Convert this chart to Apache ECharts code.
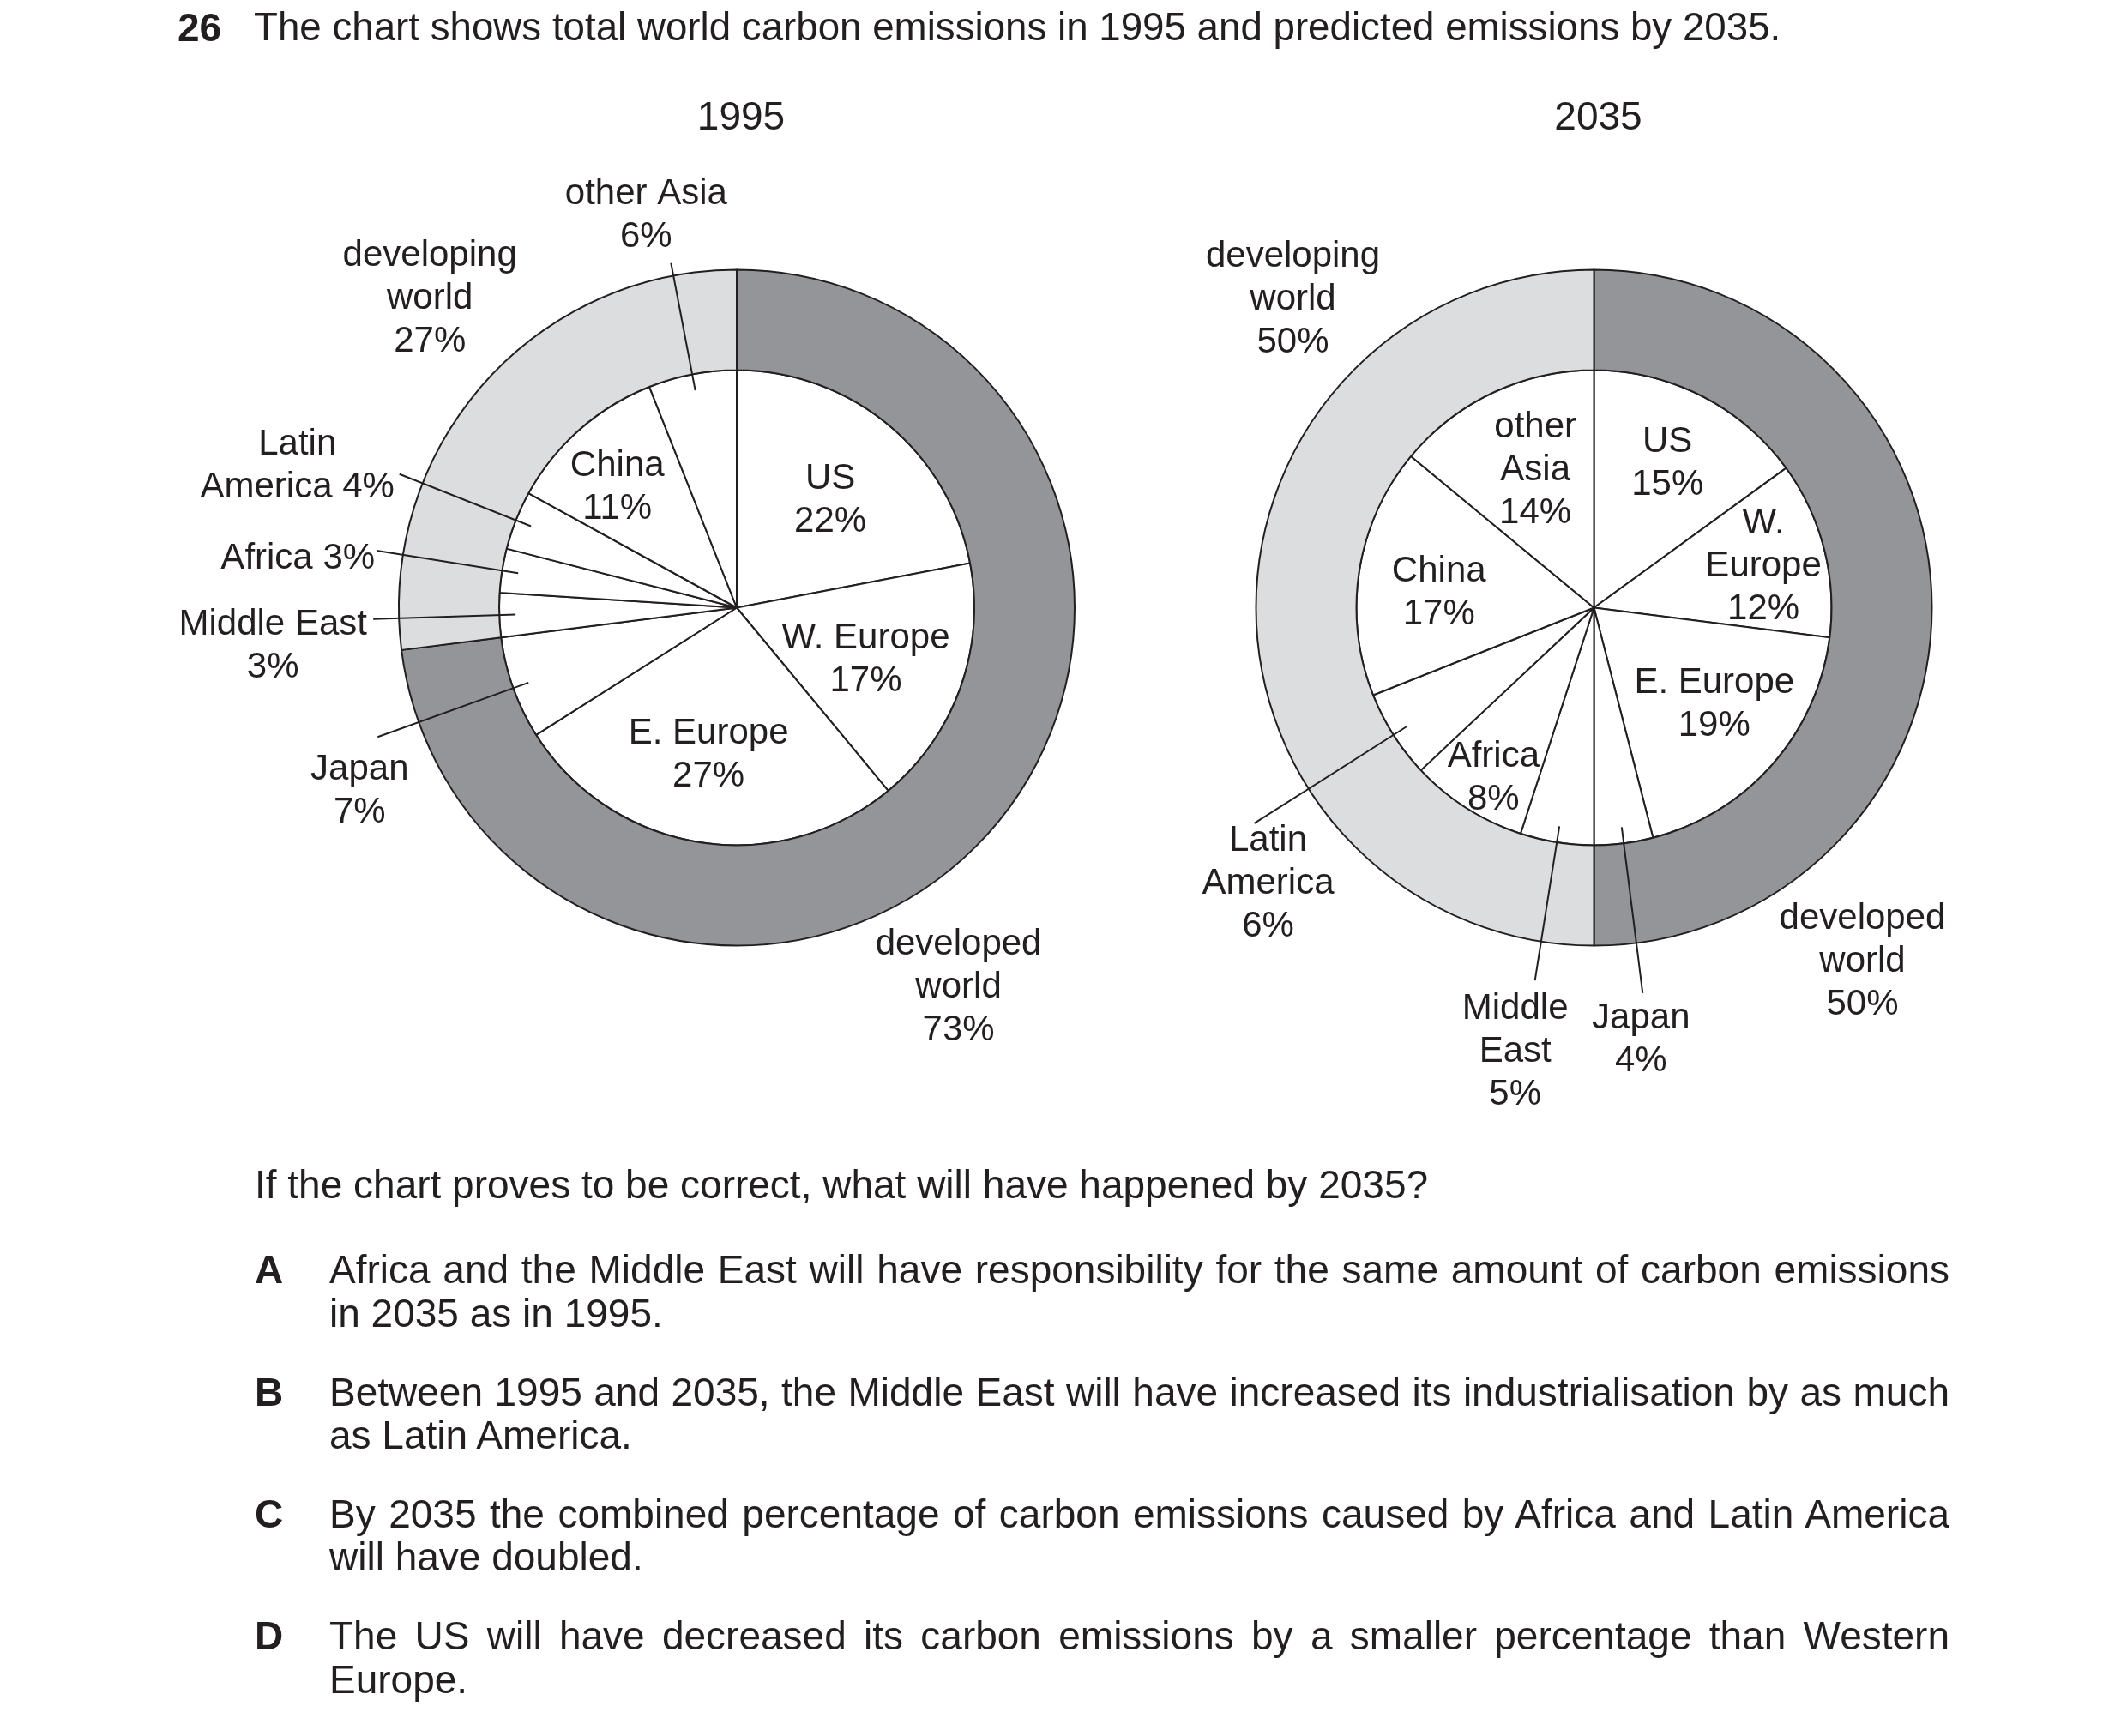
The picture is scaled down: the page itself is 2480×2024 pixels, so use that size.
<!DOCTYPE html>
<html>
<head>
<meta charset="utf-8">
<script src="https://cdn.jsdelivr.net/npm/echarts@6/dist/echarts.min.js"></script>
<style>
html,body{margin:0;padding:0;background:#ffffff;width:2480px;height:2024px;overflow:hidden;}
#chart{position:absolute;left:0;top:0;width:2480px;height:2024px;}
.t{position:absolute;font-family:"Liberation Sans",Arial,sans-serif;font-size:46px;line-height:50.5px;color:#231f20;white-space:nowrap;z-index:2;}
.b{font-weight:bold;}
.j{text-align:justify;text-align-last:justify;}
</style>
</head>
<body>
<div id="chart"></div>
<div class="t b" style="left:207px;top:7px">26</div>
<div class="t" style="left:296px;top:7px;font-size:45.7px">The chart shows total world carbon emissions in 1995 and predicted emissions by 2035.</div>
<div class="t" style="left:297px;top:1356px">If the chart proves to be correct, what will have happened by 2035?</div>
<div class="t b" style="left:297px;top:1455px">A</div>
<div class="t j" style="left:384px;top:1455px;width:1889px">Africa and the Middle East will have responsibility for the same amount of carbon emissions</div>
<div class="t" style="left:384px;top:1506px">in 2035 as in 1995.</div>
<div class="t b" style="left:297px;top:1598px">B</div>
<div class="t j" style="left:384px;top:1598px;width:1889px">Between 1995 and 2035, the Middle East will have increased its industrialisation by as much</div>
<div class="t" style="left:384px;top:1648px">as Latin America.</div>
<div class="t b" style="left:297px;top:1740px">C</div>
<div class="t j" style="left:384px;top:1740px;width:1889px">By 2035 the combined percentage of carbon emissions caused by Africa and Latin America</div>
<div class="t" style="left:384px;top:1790px">will have doubled.</div>
<div class="t b" style="left:297px;top:1882px">D</div>
<div class="t j" style="left:384px;top:1882px;width:1889px">The US will have decreased its carbon emissions by a smaller percentage than Western</div>
<div class="t" style="left:384px;top:1933px">Europe.</div>
<script>
// ---------------- data ----------------
const years = ['1995', '2035'];
const regions = ['US', 'W. Europe', 'E. Europe', 'Japan', 'Middle East', 'Africa', 'Latin America', 'China', 'other Asia'];
const values1995 = [22, 17, 27, 7, 3, 3, 4, 11, 6];
const values2035 = [15, 12, 19, 4, 5, 8, 6, 17, 14];
const groups = ['developed world', 'developing world'];
const groups1995 = [73, 27];
const groups2035 = [50, 50];

// ---------------- label wording ----------------
const text1995 = {'Latin America': 'Latin\nAmerica {v}', 'Africa': 'Africa {v}', 'Middle East': 'Middle East\n{v}', 'other Asia': 'other Asia\n{v}'};
const text2035 = {'other Asia': 'other\nAsia\n{v}', 'W. Europe': 'W.\nEurope\n{v}', 'Latin America': 'Latin\nAmerica\n{v}', 'Middle East': 'Middle\nEast\n{v}'};
const textRing = {'developed world': 'developed\nworld\n{v}', 'developing world': 'developing\nworld\n{v}'};

// ---------------- style / placement ----------------
const INK = '#231f20';
const DARK = '#939598';
const LIGHT = '#dcddde';
const FONT = '"Liberation Sans", Arial, sans-serif';
const LH = 50;
const centers = [[859, 708.5], [1858.5, 708.5]];
const R_IN = 277, R_OUT = 394, R_LBL = 258;

// len: leader length from label radius; dx,dy: shift of text centre from the leader end
const place1995 = {
  'US': {len: -90, dx: 2, dy: 1},
  'W. Europe': {len: -97, dx: -1, dy: 3},
  'E. Europe': {len: -86, dx: -6, dy: -1},
  'Japan': {len: 187, dx: -21, dy: 60, line: true},
  'Middle East': {len: 166, dx: -117, dy: 29, line: true},
  'Africa': {len: 167, dx: -92, dy: 6, line: true},
  'Latin America': {len: 165, dx: -119, dy: -12, line: true},
  'China': {len: -58, dx: -7, dy: 7},
  'other Asia': {len: 151, dx: -29, dy: -58, line: true}
};
const place2035 = {
  'US': {len: -67, dx: -1, dy: -1},
  'W. Europe': {len: -54, dx: 0, dy: 0},
  'E. Europe': {len: -79, dx: 6, dy: -8},
  'Japan': {len: 195, dx: -2, dy: 51, line: true},
  'Middle East': {len: 182, dx: -23, dy: 80, line: true},
  'Africa': {len: -30, dx: 5, dy: 3},
  'Latin America': {len: 211, dx: 16, dy: 68, line: true},
  'China': {len: -76, dx: -1, dy: 8},
  'other Asia': {len: -81, dx: 7, dy: -3}
};
const placeRing1995 = {
  'developed world': {len: 116, dx: -124, dy: 103},
  'developing world': {len: 115, dx: 24, dy: -26}
};
const placeRing2035 = {
  'developed world': {len: -81, dx: 0, dy: 410},
  'developing world': {len: -43, dx: 0, dy: -362}
};
const TEXT_NUDGE = 3;

function labelText(map, name, value) {
  const t = map[name] || (name + '\n{v}');
  return t.replace('{v}', value + '%');
}
// text is top-aligned at the anchor; padding moves its centre by (dx, dy)
function pad(dx, dy, nLines) {
  return [dy - nLines * LH / 2 + TEXT_NUDGE, dx < 0 ? -2 * dx : 0, 0, dx > 0 ? 2 * dx : 0];
}
function fmt(map) {
  return function (p) { return labelText(map, p.name, p.value); };
}
function itemsWithLabels(names, vals, place, textMap, extra) {
  return names.map(function (n, i) {
    const p = place[n];
    const lines = labelText(textMap, n, vals[i]).split('\n').length;
    const d = {
      name: n, value: vals[i],
      label: {padding: pad(p.dx, p.dy, lines)},
      labelLine: {show: !!p.line, length: p.len, length2: 0}
    };
    return extra ? Object.assign(d, extra(i)) : d;
  });
}
const labelBase = {
  show: true, position: 'outside', alignTo: 'none', distanceToLabelLine: 0,
  color: INK, fontFamily: FONT, fontSize: 42, lineHeight: LH
};
const labelAlign = function () { return {align: 'center', verticalAlign: 'top'}; };

function pieSet(k, vals, grp, place, placeRing, textMap) {
  const c = centers[k];
  return [
    { // inner slices
      type: 'pie', center: c, radius: [0, R_IN], startAngle: 90, clockwise: true,
      silent: true, avoidLabelOverlap: false, z: 2,
      label: {show: false}, labelLine: {show: false},
      itemStyle: {color: '#ffffff', borderColor: INK, borderWidth: 2, borderJoin: 'round'},
      data: regions.map(function (n, i) { return {name: n, value: vals[i]}; })
    },
    { // outer ring
      type: 'pie', center: c, radius: [R_IN, R_OUT], startAngle: 90, clockwise: true,
      silent: true, avoidLabelOverlap: false, z: 2,
      label: Object.assign({}, labelBase, {formatter: fmt(textRing)}),
      labelLine: {show: false},
      labelLayout: labelAlign,
      itemStyle: {borderColor: INK, borderWidth: 2},
      data: itemsWithLabels(groups, grp, placeRing, textRing, function (i) {
        return {itemStyle: {color: i === 0 ? DARK : LIGHT}};
      })
    },
    { // labels and leader lines for the inner slices
      type: 'pie', center: c, radius: [0, R_LBL], startAngle: 90, clockwise: true,
      silent: true, avoidLabelOverlap: false, z: 5,
      itemStyle: {color: 'rgba(0,0,0,0)', borderWidth: 0},
      label: Object.assign({}, labelBase, {formatter: fmt(textMap)}),
      labelLine: {show: true, lineStyle: {color: INK, width: 2}},
      labelLayout: labelAlign,
      data: itemsWithLabels(regions, vals, place, textMap)
    }
  ];
}

const chart = echarts.init(document.getElementById('chart'));
chart.setOption({
  animation: false,
  backgroundColor: '#ffffff',
  title: years.map(function (y, k) {
    return {
      text: y, left: centers[k][0], top: 110, textAlign: 'center',
      textStyle: {color: INK, fontFamily: FONT, fontSize: 46, fontWeight: 'normal', lineHeight: 46}
    };
  }),
  series: [].concat(
    pieSet(0, values1995, groups1995, place1995, placeRing1995, text1995),
    pieSet(1, values2035, groups2035, place2035, placeRing2035, text2035)
  )
});
</script>
</body>
</html>
